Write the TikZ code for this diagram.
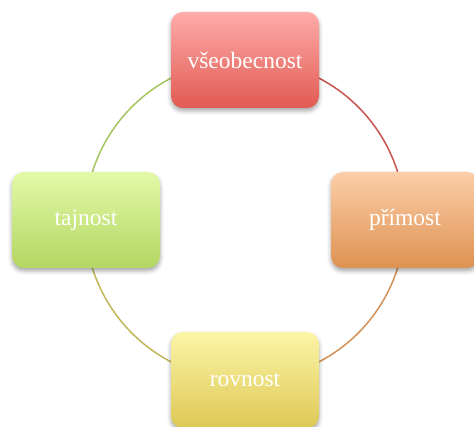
\documentclass[tikz,border=0pt]{standalone}
\usepackage{fontspec}
\setmainfont{Liberation Serif}
\usetikzlibrary{shadows.blur}

\definecolor{rojoArr}{RGB}{255,172,170}
\definecolor{rojoAba}{RGB}{224,90,82}
\definecolor{narArr}{RGB}{252,206,168}
\definecolor{narAba}{RGB}{222,146,82}
\definecolor{verArr}{RGB}{226,250,168}
\definecolor{verAba}{RGB}{180,214,98}
\definecolor{amaArr}{RGB}{252,245,168}
\definecolor{amaAba}{RGB}{222,200,85}
\definecolor{arcoRojo}{RGB}{200,85,78}
\definecolor{arcoNar}{RGB}{210,145,88}
\definecolor{arcoAma}{RGB}{195,182,88}
\definecolor{arcoVer}{RGB}{165,198,95}

\begin{document}
\begin{tikzpicture}[x=1pt, y=1pt,
    caja/.style={rounded corners=12pt, minimum width=148pt, minimum height=96pt,
        inner sep=0pt, text=white, font=\fontsize{23.5}{28}\selectfont,
        blur shadow={shadow xshift=0pt, shadow yshift=-3pt, shadow blur radius=4pt, shadow opacity=35}},
    arco/.style={line width=1.5pt}]
        \useasboundingbox (0,0) rectangle (474,427);
        
        % Centro del circulo
        \coordinate (centro) at (245,207);
        
        % Arcos entre las cajas
        \draw[arco, arcoRojo] (centro) ++(16.5:160) arc[start angle=16.5, end angle=63.5, radius=160];
        \draw[arco, arcoVer] (centro) ++(116.5:160) arc[start angle=116.5, end angle=163.5, radius=160];
        \draw[arco, arcoAma] (centro) ++(196.5:160) arc[start angle=196.5, end angle=243.5, radius=160];
        \draw[arco, arcoNar] (centro) ++(296.5:160) arc[start angle=296.5, end angle=343.5, radius=160];
        
        % Cajas
        \node[caja, top color=rojoArr, bottom color=rojoAba] (vseobecnost) at (245,367) {všeobecnost};
        \node[caja, top color=narArr, bottom color=narAba] (primost) at (405,207) {přímost};
        \node[caja, top color=amaArr, bottom color=amaAba] (rovnost) at (245,47) {rovnost};
        \node[caja, top color=verArr, bottom color=verAba] (tajnost) at (86,207) {tajnost};
    \end{tikzpicture}
\end{document}
